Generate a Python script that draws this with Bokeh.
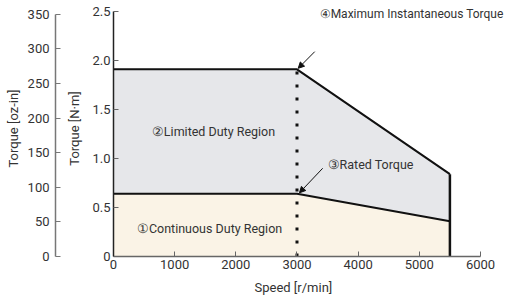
from bokeh.plotting import figure
from bokeh.models import (Range1d, LinearAxis, FixedTicker, Label, Arrow, Title,
                          NormalHead, ColumnDataSource, NumeralTickFormatter)
from bokeh.embed import file_html
from bokeh.resources import INLINE

# ---- data ----
speed = [0, 3000, 5500]                 # r/min
max_torque = [1.91, 1.91, 0.84]         # N·m (maximum instantaneous torque)
rated_torque = [0.64, 0.64, 0.36]       # N·m (rated / continuous)
zero = [0, 0, 0]
x_ticks = [0, 1000, 2000, 3000, 4000, 5000, 6000]
nm_ticks = [0, 0.5, 1.0, 1.5, 2.0, 2.5]
oz_ticks = [0, 50, 100, 150, 200, 250, 300, 350]
NM_TO_OZIN = 141.612

FONT = "Roboto"
TXT = "#333333"

X_MAX_VIEW = 6507      # a little room right of the 6000 tick for the annotation text
Y_MAX_VIEW = 2.612     # a little room above the 2.5 tick

p = figure(width=511, height=304, output_backend="svg", toolbar_location=None,
           x_range=Range1d(0, X_MAX_VIEW), y_range=Range1d(0, Y_MAX_VIEW),
           min_border_left=113, min_border_right=0, min_border_top=0,
           min_border_bottom=48)
p.outline_line_color = None
p.xgrid.visible = False
p.ygrid.visible = False
p.background_fill_color = "white"

p.extra_y_ranges = {"oz": Range1d(0, Y_MAX_VIEW * NM_TO_OZIN)}

src = ColumnDataSource(dict(x=speed, mx=max_torque, rt=rated_torque, z=zero))

# regions
p.varea(x="x", y1="z", y2="rt", source=src, fill_color="#faf3e6")
p.varea(x="x", y1="rt", y2="mx", source=src, fill_color="#e6e7ea")

# boundary lines
p.line(x="x", y="mx", source=src, line_color="#111111", line_width=2)
p.line(x="x", y="rt", source=src, line_color="#111111", line_width=2)
p.segment(x0=[speed[-1]], y0=[0], x1=[speed[-1]], y1=[max_torque[-1]],
          line_color="#111111", line_width=2.5)
# dotted line at rated speed
p.segment(x0=[speed[1]], y0=[0], x1=[speed[1]], y1=[max_torque[1]],
          line_color="#111111", line_width=3, line_dash="3 10")

def style_axis(ax):
    ax.major_tick_in = 5
    ax.major_tick_out = 0
    ax.minor_tick_line_color = None
    ax.major_label_text_font = FONT
    ax.major_label_text_font_size = "13px"
    ax.major_label_text_color = TXT
    ax.axis_label_text_font = FONT
    ax.axis_label_text_font_size = "13px"
    ax.axis_label_text_font_style = "normal"
    ax.axis_label_text_color = TXT

xa = p.xaxis[0]
style_axis(xa)
xa.ticker = FixedTicker(ticks=x_ticks)
xa.bounds = (x_ticks[0], x_ticks[-1])
xa.axis_line_color = "#666666"
xa.major_tick_line_color = "#666666"
xa.axis_line_width = 1.5
xa.major_label_standoff = 3

# x-axis caption centred under the 0..6000 axis (frame extends further right)
p.add_layout(Title(text="Speed [r/min]", align="left", offset=141, standoff=13,
                   text_font=FONT, text_font_size="13px", text_font_style="normal",
                   text_color=TXT), "below")

ya = p.yaxis[0]
style_axis(ya)
ya.ticker = FixedTicker(ticks=nm_ticks)
ya.bounds = (nm_ticks[0], nm_ticks[-1])
ya.formatter = NumeralTickFormatter(format="0.0")
ya.major_label_overrides = {0: "0"}
ya.axis_label = "Torque [N·m]"
ya.axis_line_color = "#222222"
ya.major_tick_line_color = "#666666"
ya.axis_line_width = 1.5
ya.major_label_standoff = 3
ya.axis_label_standoff = 7

# thin empty spacer between the two left axes
spacer = LinearAxis(y_range_name="oz", ticker=FixedTicker(ticks=[]),
                    axis_line_color=None, major_tick_line_color=None,
                    minor_tick_line_color=None, major_tick_out=0, major_tick_in=0,
                    major_label_standoff=0, axis_label=" ",
                    axis_label_text_font_size="1px", axis_label_standoff=5)
p.add_layout(spacer, "left")

oz = LinearAxis(y_range_name="oz", axis_label="Torque [oz-in]",
                ticker=FixedTicker(ticks=oz_ticks), bounds=(oz_ticks[0], oz_ticks[-1]))
style_axis(oz)
oz.axis_line_color = "#777777"
oz.major_tick_line_color = "#777777"
oz.axis_line_width = 1.5
oz.major_label_standoff = 6
oz.axis_label_standoff = 4
p.add_layout(oz, "left")

def add_label(x, y, text, align="center", size="13px"):
    p.add_layout(Label(x=x, y=y, text=text, text_font=FONT, text_font_size=size,
                       text_color=TXT, text_align=align, text_baseline="middle"))

add_label(1635, 1.28, "②Limited Duty Region", size="12.5px")
add_label(1570, 0.29, "①Continuous Duty Region", size="12.5px")
add_label(3500, 0.94, "③Rated Torque", align="left", size="12.5px")
add_label(3370, 2.47, "④Maximum Instantaneous Torque", align="left", size="12px")

p.add_layout(Arrow(end=NormalHead(size=6, fill_color="#111111", line_color="#111111"),
                   x_start=3290, y_start=2.09, x_end=speed[1] + 20, y_end=max_torque[1] + 0.01,
                   line_color="#111111", line_width=1))
p.add_layout(Arrow(end=NormalHead(size=6, fill_color="#111111", line_color="#111111"),
                   x_start=3420, y_start=0.90, x_end=speed[1] + 40, y_end=rated_torque[1] + 0.01,
                   line_color="#111111", line_width=1))

open("out.html", "w").write(file_html(p, INLINE))
